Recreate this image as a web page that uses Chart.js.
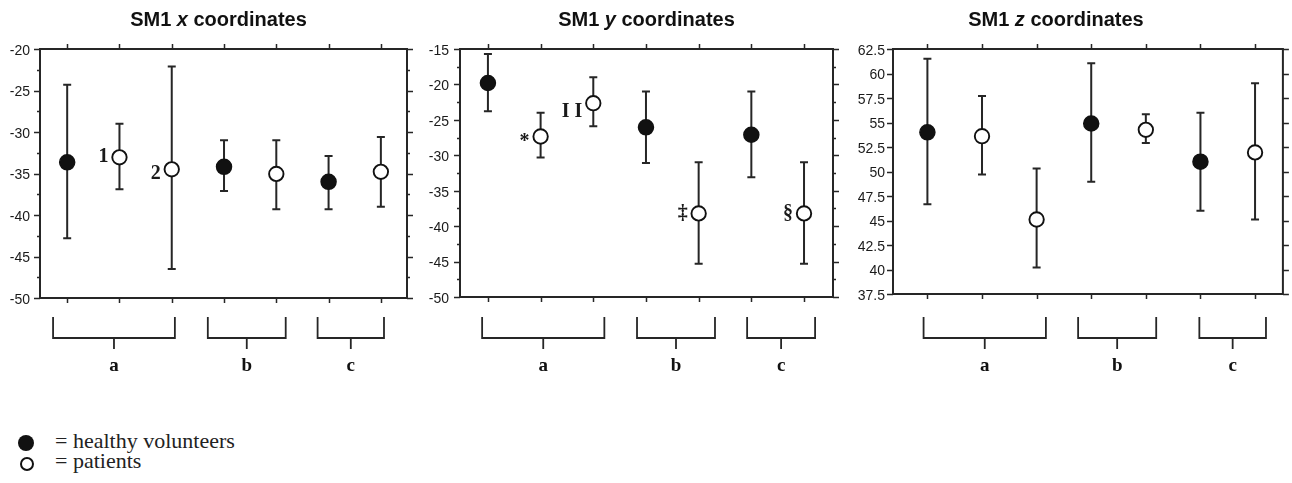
<!DOCTYPE html>
<html>
<head>
<meta charset="utf-8">
<script src="https://cdn.jsdelivr.net/npm/chart.js@4.4.0/dist/chart.umd.min.js"></script>
<style>
  body { margin: 0; background: #fff; }
  #wrap { position: relative; width: 1292px; height: 483px; overflow: hidden; }
  canvas { position: absolute; top: 0; }
  .legend { position: absolute; left: 55px; font: 22px 'Liberation Serif', 'Times New Roman', serif; line-height: 22px; color: #222; white-space: nowrap; }
  .dot { position: absolute; border-radius: 50%; box-sizing: border-box; }
</style>
</head>
<body>
<div id="wrap">
  <canvas id="cx" width="430" height="400" style="left:0"></canvas>
  <canvas id="cy" width="430" height="400" style="left:420px"></canvas>
  <canvas id="cz" width="447" height="400" style="left:845px"></canvas>
  <div class="dot" style="left:18px;top:435px;width:16px;height:16px;background:#111"></div>
  <div class="legend" style="top:430px">= healthy volunteers</div>
  <div class="dot" style="left:19.5px;top:457px;width:14px;height:14px;border:2px solid #111;background:#fff"></div>
  <div class="legend" style="top:450px">= patients</div>
</div>
<script>
// groups and subject type of each column (same order in all three panels)
const categories = ['a', 'a', 'a', 'b', 'b', 'c', 'c'];
const subjects = ['healthy', 'patients', 'patients', 'healthy', 'patients', 'healthy', 'patients'];

// SM1 x coordinates
const xMeans = [-33.65, -33.05, -34.5, -34.2, -35.05, -36.0, -34.8];
const xUpper = [-24.3, -29.0, -22.1, -31.0, -31.0, -32.9, -30.6];
const xLower = [-42.8, -36.9, -46.5, -37.1, -39.3, -39.3, -39.0];
const xMarks = ['', '1', '2', '', '', '', ''];
const xRange = [-50, -20];

// SM1 y coordinates
const yMeans = [-19.8, -27.35, -22.65, -26.05, -38.2, -27.1, -38.2];
const yUpper = [-15.7, -24.0, -19.0, -21.0, -31.0, -21.0, -31.0];
const yLower = [-23.8, -30.3, -25.9, -31.1, -45.3, -33.1, -45.3];
const yMarks = ['', '*', 'I I', '', '‡', '', '§'];
const yRange = [-50, -15];

// SM1 z coordinates
const zMeans = [54.0, 53.6, 45.1, 54.9, 54.25, 51.0, 51.95];
const zUpper = [61.5, 57.7, 50.3, 61.05, 55.85, 56.0, 59.0];
const zLower = [46.65, 49.7, 40.2, 48.95, 52.9, 46.0, 45.1];
const zMarks = ['', '', '', '', '', '', ''];
const zRange = [37.5, 62.5];

const tickStep = 2.5;
const ink = '#262626';
const markDy = { '2': 4, '*': 5, 'I I': 9 };

function makePanel(id, p) {
    const pts = who => p.means
        .map((v, i) => ({ x: i, y: v }))
        .filter((pt, i) => subjects[i] === who);

    const decor = {
        id: 'decor' + id,
        beforeDatasetsDraw(chart) {
            const { ctx, chartArea: a } = chart;
            const xs = chart.scales.x, ys = chart.scales.y;
            ctx.save();
            ctx.strokeStyle = ink;
            ctx.lineWidth = 2;
            ctx.strokeRect(a.left, a.top, a.right - a.left, a.bottom - a.top);

            // y tick marks, outward on both sides
            ctx.lineWidth = 1.5;
            ys.ticks.forEach(t => {
                const y = Math.round(ys.getPixelForValue(t.value)) + 0.5;
                const len = t.label !== '' ? 6 : 3;
                ctx.beginPath();
                ctx.moveTo(a.left - len, y); ctx.lineTo(a.left, y);
                ctx.moveTo(a.right, y); ctx.lineTo(a.right + len, y);
                ctx.stroke();
            });
            // column tick marks, top and bottom
            p.means.forEach((v, i) => {
                const x = Math.round(xs.getPixelForValue(i)) + 0.5;
                ctx.beginPath();
                ctx.moveTo(x, a.top - 5); ctx.lineTo(x, a.top);
                ctx.moveTo(x, a.bottom); ctx.lineTo(x, a.bottom + 5);
                ctx.stroke();
            });

            // error bars
            ctx.lineWidth = 2;
            p.means.forEach((v, i) => {
                const x = xs.getPixelForValue(i);
                const yt = ys.getPixelForValue(p.upper[i]);
                const yb = ys.getPixelForValue(p.lower[i]);
                ctx.beginPath();
                ctx.moveTo(x, yt); ctx.lineTo(x, yb);
                ctx.moveTo(x - 4, yt); ctx.lineTo(x + 4, yt);
                ctx.moveTo(x - 4, yb); ctx.lineTo(x + 4, yb);
                ctx.stroke();
            });
            ctx.restore();
        },
        afterDatasetsDraw(chart) {
            const { ctx } = chart;
            const xs = chart.scales.x, ys = chart.scales.y;
            ctx.save();
            ctx.fillStyle = '#1a1a1a';
            ctx.font = 'bold 20px "Liberation Serif", "Times New Roman", serif';
            ctx.textAlign = 'right';
            ctx.textBaseline = 'middle';
            p.marks.forEach((m, i) => {
                if (!m) return;
                const x = xs.getPixelForValue(i) - 11;
                const y = ys.getPixelForValue(p.means[i]) + (markDy[m] || 0);
                ctx.fillText(m, x, y);
            });
            ctx.restore();
        },
        afterDraw(chart) {
            const { ctx, chartArea: a } = chart;
            const xs = chart.scales.x;
            ctx.save();
            // title with italic axis letter
            const parts = [['SM1 ', ''], [p.axis, 'italic '], [' coordinates', '']];
            const fontOf = st => st + 'bold 20px "Liberation Sans", Arial, sans-serif';
            let total = 0;
            parts.forEach(([s, st]) => { ctx.font = fontOf(st); total += ctx.measureText(s).width; });
            let tx = (a.left + a.right) / 2 + p.titleShift - total / 2;
            ctx.fillStyle = '#111';
            ctx.textBaseline = 'alphabetic';
            parts.forEach(([s, st]) => {
                ctx.font = fontOf(st);
                ctx.fillText(s, tx, 26);
                tx += ctx.measureText(s).width;
            });

            // group brackets under the plot
            ctx.strokeStyle = ink;
            ctx.lineWidth = 1.8;
            ctx.font = 'bold 19px "Liberation Serif", "Times New Roman", serif';
            ctx.textAlign = 'center';
            [...new Set(categories)].forEach(g => {
                const first = categories.indexOf(g);
                const last = categories.lastIndexOf(g);
                const pad = p.bracketPad[g];
                const x1 = xs.getPixelForValue(first + pad[0]);
                const x2 = xs.getPixelForValue(last + pad[1]);
                const mid = (x1 + x2) / 2;
                ctx.beginPath();
                ctx.moveTo(x1, 317); ctx.lineTo(x1, 338); ctx.lineTo(x2, 338); ctx.lineTo(x2, 317);
                ctx.moveTo(mid, 338); ctx.lineTo(mid, 349);
                ctx.stroke();
                ctx.fillText(g, mid, 371);
            });
            ctx.restore();
        }
    };

    return new Chart(document.getElementById(id), {
        type: 'scatter',
        data: {
            datasets: [{
                label: 'healthy volunteers',
                data: pts('healthy'),
                pointRadius: 7.5,
                pointHoverRadius: 7.5,
                pointBackgroundColor: '#111',
                pointBorderColor: '#111',
                pointBorderWidth: 1.5
            }, {
                label: 'patients',
                data: pts('patients'),
                pointRadius: 7.2,
                pointHoverRadius: 7.2,
                pointBackgroundColor: '#fff',
                pointBorderColor: '#111',
                pointBorderWidth: 1.9
            }]
        },
        options: {
            responsive: false,
            animation: false,
            layout: { padding: { left: 0, top: p.top, right: p.padRight, bottom: p.padBottom } },
            plugins: { legend: { display: false }, tooltip: { enabled: false } },
            scales: {
                x: { type: 'linear', display: false, min: p.xMin, max: p.xMax },
                y: {
                    min: p.range[0],
                    max: p.range[1],
                    afterFit: s => { s.width = p.yWidth; },
                    grid: { display: false, drawTicks: false },
                    border: { display: false },
                    ticks: {
                        stepSize: tickStep,
                        autoSkip: false,
                        maxTicksLimit: 100,
                        padding: p.tickPad,
                        labelOffset: 2,
                        color: '#1a1a1a',
                        font: { family: '"Liberation Sans", Arial, sans-serif', size: 14 },
                        callback: v => Math.abs(v / p.labelEvery - Math.round(v / p.labelEvery)) < 1e-6 ? String(v) : ''
                    }
                }
            }
        },
        plugins: [decor]
    });
}

makePanel('cx', {
    axis: 'x', means: xMeans, upper: xUpper, lower: xLower, marks: xMarks, range: xRange,
    labelEvery: 5, yWidth: 40, top: 49, padRight: 23, padBottom: 102, xMin: -0.52, xMax: 6.5,
    tickPad: 10, titleShift: -5,
    bracketPad: { a: [-0.27, 0.06], b: [-0.31, 0.18], c: [-0.21, 0.06] }
});
makePanel('cy', {
    axis: 'y', means: yMeans, upper: yUpper, lower: yLower, marks: yMarks, range: yRange,
    labelEvery: 5, yWidth: 40, top: 49, padRight: 17, padBottom: 103, xMin: -0.53, xMax: 6.55,
    tickPad: 11, titleShift: 0,
    bracketPad: { a: [-0.11, 0.21], b: [-0.17, 0.31], c: [-0.08, 0.21] }
});
makePanel('cz', {
    axis: 'z', means: zMeans, upper: zUpper, lower: zLower, marks: zMarks, range: zRange,
    labelEvery: 2.5, yWidth: 48, top: 49, padRight: 9, padBottom: 106, xMin: -0.63, xMax: 6.51,
    tickPad: 8, titleShift: -32,
    bracketPad: { a: [-0.07, 0.17], b: [-0.24, 0.19], c: [-0.02, 0.2] }
});
</script>
</body>
</html>
